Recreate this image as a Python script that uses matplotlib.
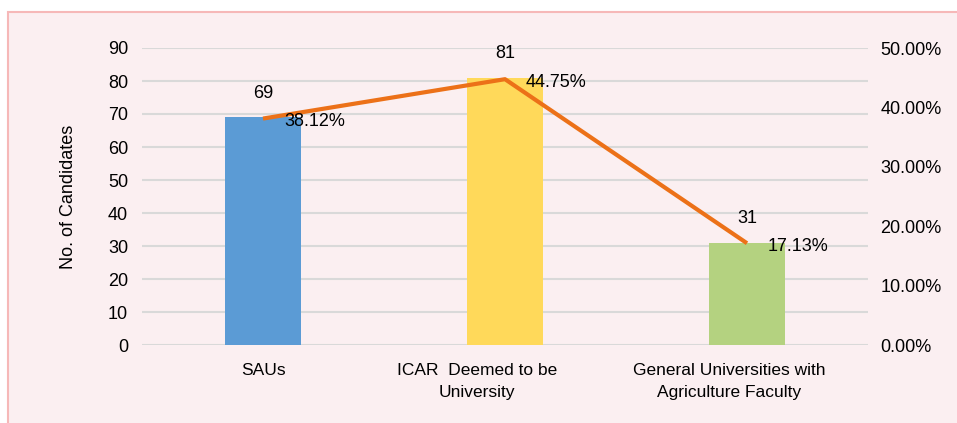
import matplotlib.pyplot as plt
from matplotlib.patches import Rectangle
from matplotlib.ticker import PercentFormatter
from matplotlib.transforms import ScaledTranslation
import numpy as np

plt.rcParams['font.family'] = ['Liberation Sans', 'DejaVu Sans']

categories = ["SAUs", "ICAR  Deemed to be\nUniversity", "General Universities with\nAgriculture Faculty"]
candidates = [69, 81, 31]
share = [0.3812, 0.4475, 0.1713]
share_labels = ["38.12%", "44.75%", "17.13%"]
bar_colors = ["#5B9BD5", "#FFD95A", "#B4D280"]

W, H = 957, 423
fig = plt.figure(figsize=(W / 100, H / 100), dpi=100)
fig.patch.set_facecolor("white")

# pink panel behind the chart
panel = Rectangle((8 / W, -0.05), 1.2, 1 - 12 / H + 0.05,
                  transform=fig.transFigure, facecolor="#FBEFF1",
                  edgecolor="#F6B8B8", linewidth=1.5, zorder=-10)
fig.add_artist(panel)

ax = fig.add_axes([142 / W, 78 / H, 726 / W, 297 / H])
ax.set_facecolor("none")
x = np.arange(len(categories))

ax.bar(x, candidates, width=0.318, color=bar_colors, zorder=2)
ax.set_xlim(-0.5, 2.5)
ax.set_ylim(0, 90)
ax.set_yticks(range(0, 91, 10))
ax.yaxis.grid(True, color="#D9D9D9", linewidth=1.5, zorder=0)
ax.set_axisbelow(True)
for s in ax.spines.values():
    s.set_visible(False)
ax.tick_params(length=0, labelsize=13, pad=10)
ax.tick_params(axis="x", pad=13)
ax.set_xticks(x)
ax.set_xticklabels(categories, fontsize=12.5, linespacing=1.55)
# the wrapped labels sit a bit left of their bars in the original
for lbl, dx in zip(ax.get_xticklabels(), [0, -28, -18]):
    lbl.set_transform(lbl.get_transform() + ScaledTranslation(dx / 100, 0, fig.dpi_scale_trans))
ax.set_ylabel("No. of Candidates", fontsize=13, labelpad=22)

for xi, v in zip(x, candidates):
    ax.annotate(str(v), (xi, v), xytext=(0, 24), textcoords="offset pixels",
                ha="center", va="center", fontsize=13)

ax2 = ax.twinx()
ax2.set_ylim(0, 0.5)
ax2.set_yticks(np.arange(0, 0.51, 0.1))
ax2.yaxis.set_major_formatter(PercentFormatter(1.0, decimals=2))
for s in ax2.spines.values():
    s.set_visible(False)
ax2.tick_params(length=0, labelsize=13, pad=9)
ax2.plot(x, share, color="#EC7118", linewidth=3, solid_capstyle="butt", zorder=3)
for xi, v, t in zip(x, share, share_labels):
    ax2.annotate(t, (xi, v), xytext=(21, -3), textcoords="offset pixels",
                 ha="left", va="center", fontsize=13)

fig.savefig("out.png", dpi=100)
